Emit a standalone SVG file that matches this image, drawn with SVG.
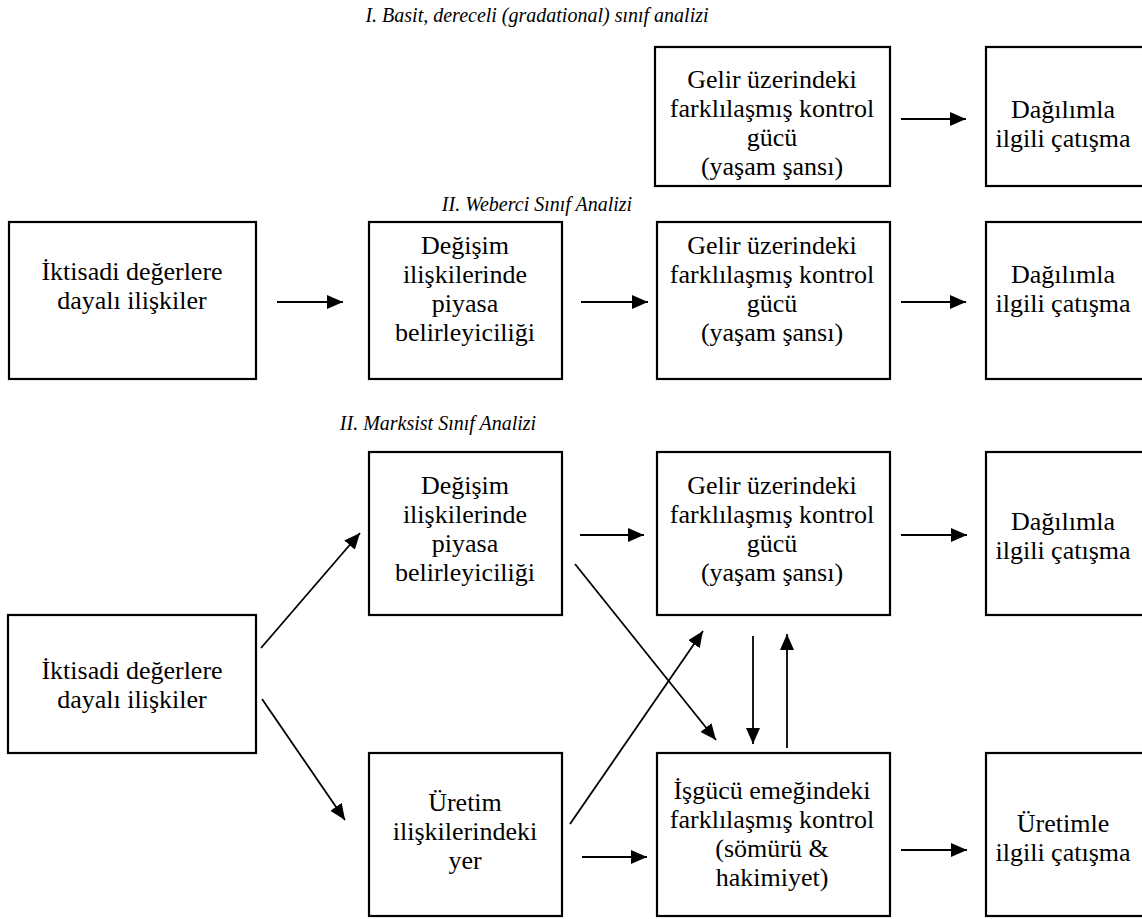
<svg xmlns="http://www.w3.org/2000/svg" width="1142" height="919" viewBox="0 0 1142 919">
<style>
.box{fill:#fff;stroke:#000;stroke-width:2.2}
.t{font-family:"Liberation Serif","Times New Roman","DejaVu Serif",serif;font-size:26px;fill:#000;text-anchor:middle}
.title{font-family:"Liberation Serif","Times New Roman","DejaVu Serif",serif;font-size:20px;font-style:italic;fill:#000;text-anchor:middle}
.c{stroke:#000;stroke-width:1.8;fill:none;marker-end:url(#ah)}
</style>
<defs>
<marker id="ah" markerUnits="userSpaceOnUse" markerWidth="17" markerHeight="14" refX="16" refY="7" orient="auto">
<path d="M0,0 L16,7 L0,14 z" fill="#000"/>
</marker>
</defs>
<rect width="1142" height="919" fill="#fff"/>
<g id="titles">
<text class="title" x="537" y="22">I. Basit, dereceli (gradational) sınıf analizi</text>
<text class="title" x="537" y="211">II. Weberci Sınıf Analizi</text>
<text class="title" x="438" y="430">II. Marksist Sınıf Analizi</text>
</g>
<g id="r1-gelir"><rect class="box" x="655" y="47" width="235" height="139"/>
<text class="t" x="772" y="88">Gelir üzerindeki</text><text class="t" x="772" y="117">farklılaşmış kontrol</text><text class="t" x="772" y="146">gücü</text><text class="t" x="772" y="175">(yaşam şansı)</text></g>
<g id="r1-dagilim"><rect class="box" x="986" y="47" width="160" height="139"/>
<text class="t" x="1063" y="118">Dağılımla</text><text class="t" x="1063" y="147">ilgili çatışma</text></g>

<g id="r2-iktisadi"><rect class="box" x="9" y="222" width="247" height="157"/>
<text class="t" x="132" y="280">İktisadi değerlere</text><text class="t" x="132" y="309">dayalı ilişkiler</text></g>
<g id="r2-degisim"><rect class="box" x="369" y="222" width="193" height="157"/>
<text class="t" x="465" y="254">Değişim</text><text class="t" x="465" y="283">ilişkilerinde</text><text class="t" x="465" y="312">piyasa</text><text class="t" x="465" y="341">belirleyiciliği</text></g>
<g id="r2-gelir"><rect class="box" x="657" y="222" width="233" height="157"/>
<text class="t" x="772" y="254">Gelir üzerindeki</text><text class="t" x="772" y="283">farklılaşmış kontrol</text><text class="t" x="772" y="312">gücü</text><text class="t" x="772" y="341">(yaşam şansı)</text></g>
<g id="r2-dagilim"><rect class="box" x="986" y="222" width="160" height="157"/>
<text class="t" x="1063" y="283">Dağılımla</text><text class="t" x="1063" y="312">ilgili çatışma</text></g>

<g id="r3-iktisadi"><rect class="box" x="8" y="615" width="248" height="138"/>
<text class="t" x="132" y="679">İktisadi değerlere</text><text class="t" x="132" y="708">dayalı ilişkiler</text></g>
<g id="r3-degisim"><rect class="box" x="369" y="452" width="193" height="163"/>
<text class="t" x="465" y="494">Değişim</text><text class="t" x="465" y="523">ilişkilerinde</text><text class="t" x="465" y="552">piyasa</text><text class="t" x="465" y="581">belirleyiciliği</text></g>
<g id="r3-gelir"><rect class="box" x="657" y="452" width="233" height="163"/>
<text class="t" x="772" y="494">Gelir üzerindeki</text><text class="t" x="772" y="523">farklılaşmış kontrol</text><text class="t" x="772" y="552">gücü</text><text class="t" x="772" y="581">(yaşam şansı)</text></g>
<g id="r3-dagilim"><rect class="box" x="986" y="452" width="160" height="163"/>
<text class="t" x="1063" y="530">Dağılımla</text><text class="t" x="1063" y="559">ilgili çatışma</text></g>
<g id="r3-uretim"><rect class="box" x="369" y="753" width="193" height="163"/>
<text class="t" x="465" y="811">Üretim</text><text class="t" x="465" y="840">ilişkilerindeki</text><text class="t" x="465" y="869">yer</text></g>
<g id="r3-isgucu"><rect class="box" x="657" y="753" width="233" height="163"/>
<text class="t" x="772" y="799">İşgücü emeğindeki</text><text class="t" x="772" y="828">farklılaşmış kontrol</text><text class="t" x="772" y="857">(sömürü &amp;</text><text class="t" x="772" y="886">hakimiyet)</text></g>
<g id="r3-uretimle"><rect class="box" x="986" y="753" width="160" height="163"/>
<text class="t" x="1063" y="832">Üretimle</text><text class="t" x="1063" y="861">ilgili çatışma</text></g>

<g id="connectors">
<line class="c" x1="901" y1="119" x2="966" y2="119"/>
<line class="c" x1="277" y1="302" x2="343" y2="302"/>
<line class="c" x1="581" y1="302" x2="648" y2="302"/>
<line class="c" x1="901" y1="302" x2="966" y2="302"/>
<line class="c" x1="580" y1="535" x2="644" y2="535"/>
<line class="c" x1="901" y1="535" x2="967" y2="535"/>
<line class="c" x1="261" y1="648" x2="360" y2="533"/>
<line class="c" x1="262" y1="699" x2="345" y2="820"/>
<line class="c" x1="575" y1="564" x2="716" y2="740"/>
<line class="c" x1="570" y1="824" x2="703" y2="631"/>
<line class="c" x1="753" y1="636" x2="753" y2="744"/>
<line class="c" x1="787" y1="748" x2="787" y2="634"/>
<line class="c" x1="582" y1="857" x2="647" y2="857"/>
<line class="c" x1="901" y1="850" x2="967" y2="850"/>
</g>
</svg>
